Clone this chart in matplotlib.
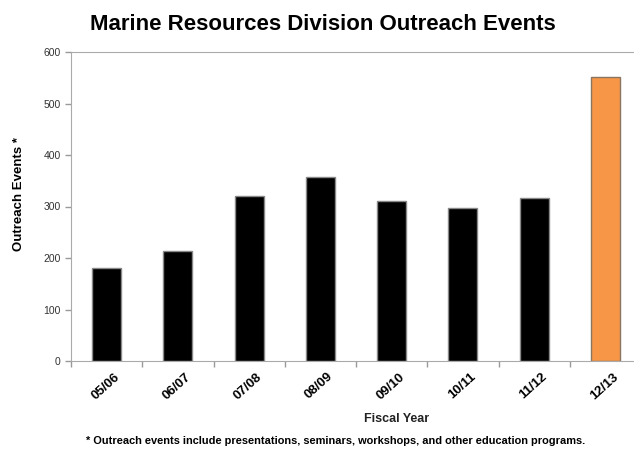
import matplotlib.pyplot as plt
import matplotlib.transforms as mtransforms
import numpy as np

plt.rcParams['font.family'] = ['Liberation Sans', 'DejaVu Sans']

years = ['05/06', '06/07', '07/08', '08/09', '09/10', '10/11', '11/12', '12/13']
events = [180, 213, 320, 357, 310, 297, 316, 552]
bar_colors = ['black'] * 7 + ['#F79646']
edge_colors = ['#888888'] * 7 + ['#8a7560']

fig = plt.figure(figsize=(6.34, 4.5), dpi=100)
# plot area runs slightly past the right edge, as in the cropped original
ax = fig.add_axes([71 / 634, 1 - 361 / 450, 570 / 634, 309 / 450])

x = np.arange(len(years))
ax.bar(x, events, width=0.41, color=bar_colors, edgecolor=edge_colors, linewidth=1)

ax.set_xlim(-0.5, len(years) - 0.5)
ax.set_ylim(0, 600)
ax.set_yticks(range(0, 601, 100))
ax.tick_params(axis='y', labelsize=7.5, labelcolor='#333333', color='#999999', length=4, width=1)

# tick marks between categories, labels at centres
ax.set_xticks(np.arange(-0.5, len(years)), labels=[])
ax.set_xticks(x, labels=years, minor=True)
ax.tick_params(axis='x', which='major', color='#999999', length=4, width=1)
ax.tick_params(axis='x', which='minor', length=0, pad=7)
shift = mtransforms.ScaledTranslation(7 / 100, 0, fig.dpi_scale_trans)
for lab in ax.get_xticklabels(minor=True):
    lab.set_rotation(42)
    lab.set_ha('right')
    lab.set_rotation_mode('anchor')
    lab.set_fontweight('bold')
    lab.set_fontsize(9.5)
    lab.set_transform(lab.get_transform() + shift)

for side in ['left', 'bottom', 'top']:
    ax.spines[side].set_color('#aaaaaa')
ax.spines['right'].set_visible(False)

ax.set_ylabel('Outreach Events *', fontsize=9.5, fontweight='bold')
ax.yaxis.set_label_coords(-0.08, 0.54)

fig.text(323 / 634, 1 - 24 / 450, 'Marine Resources Division Outreach Events',
         ha='center', va='center', fontsize=16, fontweight='bold')
fig.text(397 / 634, 1 - 419 / 450, 'Fiscal Year', ha='center', va='center',
         fontsize=9, fontweight='bold', color='#222222')
fig.text(336 / 634, 1 - 441 / 450,
         '* Outreach events include presentations, seminars, workshops, and other education programs.',
         ha='center', va='center', fontsize=7.9, fontweight='bold')

fig.savefig('out.png', dpi=100)
